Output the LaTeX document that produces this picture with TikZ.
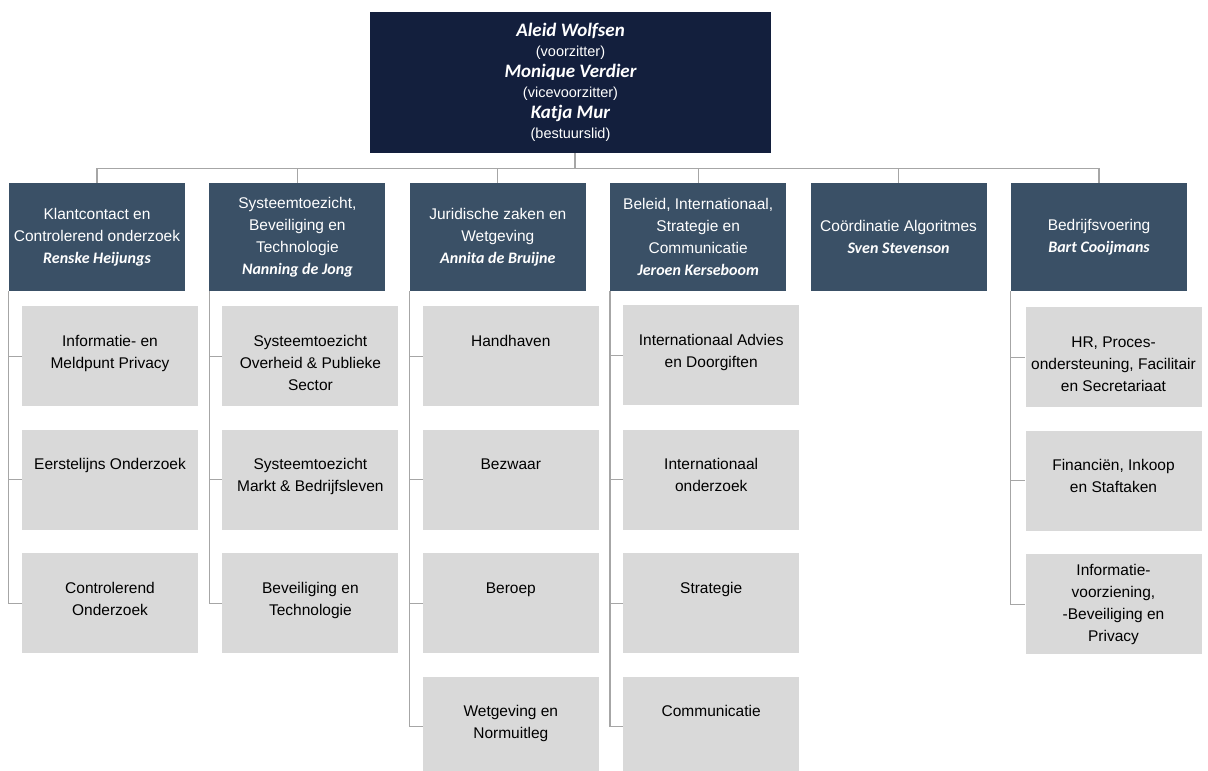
\documentclass[tikz,border=0pt]{standalone}
\usepackage{fontspec}
\setmainfont{Liberation Sans}
\newfontfamily\namefont{Carlito}
\usetikzlibrary{positioning}

\definecolor{boardblue}{HTML}{131F3D}
\definecolor{deptblue}{HTML}{3A5066}
\definecolor{unitgray}{HTML}{D9D9D9}
\definecolor{linegray}{HTML}{A6A6A6}

\newcommand{\pname}[2][16]{{\namefont\bfseries\itshape\fontsize{#1}{22}\selectfont #2}}

\begin{document}
\begin{tikzpicture}[x=1pt, y=-1pt, node distance=24pt,
  board/.style={rectangle, fill=boardblue, text=white, minimum width=401pt, minimum height=141pt, align=center, font=\fontsize{14.5}{20.5}\selectfont},
  dept/.style={rectangle, fill=deptblue, text=white, minimum width=176pt, minimum height=108pt, inner sep=2pt, align=center, font=\fontsize{15.5}{22}\selectfont},
  unitbox/.style={rectangle, fill=unitgray, minimum width=176pt, minimum height=100pt, inner sep=0pt, font=\fontsize{15.5}{22}\selectfont},
  unit/.style={unitbox,
    execute at begin node={\begin{minipage}[t][100pt][t]{176pt}\centering\rule{0pt}{40pt}},
    execute at end node={\end{minipage}}},
  unitmid/.style={unitbox,
    execute at begin node={\begin{minipage}[c][100pt][c]{176pt}\centering},
    execute at end node={\end{minipage}}},
  link/.style={draw=linegray, line width=1.2pt}]
  \useasboundingbox (0,0) rectangle (1208,771);

  % bestuur
  \node[board] (board) at (570.5,82.5) {\pname[19]{Aleid Wolfsen}\\(voorzitter)\\\pname[19]{Monique Verdier}\\(vicevoorzitter)\\\pname[19]{Katja Mur}\\(bestuurslid)};

  % directies
  \node[dept] (klant) at (97,237) {Klantcontact en\\Controlerend onderzoek\\\pname{Renske Heijungs}};
  \node[dept, right=of klant] (systeem) {Systeemtoezicht,\\Beveiliging en\\Technologie\\\pname{Nanning de Jong}};
  \node[dept, right=of systeem] (juridisch) {Juridische zaken en\\Wetgeving\\\pname{Annita de Bruijne}};
  \node[dept, right=of juridisch] (beleid) {Beleid, Internationaal,\\Strategie en\\Communicatie\\\pname{Jeroen Kerseboom}};
  \node[dept, right=of beleid] (algo) {Coördinatie Algoritmes\\\pname{Sven Stevenson}};
  \node[dept, right=of algo] (bedrijf) {Bedrijfsvoering\\\pname{Bart Cooijmans}};

  % afdelingen
  \node[unit, below=15pt of klant, xshift=13pt] (meldpunt) {Informatie- en\\Meldpunt Privacy};
  \node[unit, below=23pt of meldpunt] (eerstelijns) {Eerstelijns Onderzoek};
  \node[unit, below=23pt of eerstelijns] (controle) {Controlerend\\Onderzoek};

  \node[unit, below=15pt of systeem, xshift=13pt] (overheid) {Systeemtoezicht\\Overheid \& Publieke\\Sector};
  \node[unit, below=23pt of overheid] (markt) {Systeemtoezicht\\Markt \& Bedrijfsleven};
  \node[unit, below=23pt of markt] (beveiliging) {Beveiliging en\\Technologie};

  \node[unit, below=15pt of juridisch, xshift=13pt] (handhaven) {Handhaven};
  \node[unit, below=23pt of handhaven] (bezwaar) {Bezwaar};
  \node[unit, below=23pt of bezwaar] (beroep) {Beroep};
  \node[unit, below=23pt of beroep] (wetgeving) {Wetgeving en\\Normuitleg};

  \node[unit, below=14pt of beleid, xshift=13pt] (advies) {Internationaal Advies\\en Doorgiften};
  \node[unit, below=24pt of advies] (onderzoek) {Internationaal\\onderzoek};
  \node[unit, below=23pt of onderzoek] (strategie) {Strategie};
  \node[unit, below=23pt of strategie] (communicatie) {Communicatie};

  \node[unit, below=16pt of bedrijf, xshift=14.5pt] (hr) {HR, Proces-\\ondersteuning, Facilitair\\en Secretariaat};
  \node[unit, below=23pt of hr] (financien) {Financiën, Inkoop\\en Staftaken};
  \node[unitmid, below=23pt of financien] (iv) {Informatie-\\voorziening,\\-Beveiliging en\\Privacy};

  % lijnen
  \foreach \d in {klant,systeem,juridisch,beleid,algo,bedrijf}
    \draw[link] ([xshift=4.5pt]board.south) -- ++(0,15) -| (\d.north);
  \foreach \u in {meldpunt,eerstelijns,controle}
    \draw[link] (klant.south west) |- (\u.west);
  \foreach \u in {overheid,markt,beveiliging}
    \draw[link] (systeem.south west) |- (\u.west);
  \foreach \u in {handhaven,bezwaar,beroep,wetgeving}
    \draw[link] (juridisch.south west) |- (\u.west);
  \foreach \u in {advies,onderzoek,strategie,communicatie}
    \draw[link] (beleid.south west) |- (\u.west);
  \foreach \u in {hr,financien,iv}
    \draw[link] (bedrijf.south west) |- (\u.west);
\end{tikzpicture}
\end{document}
